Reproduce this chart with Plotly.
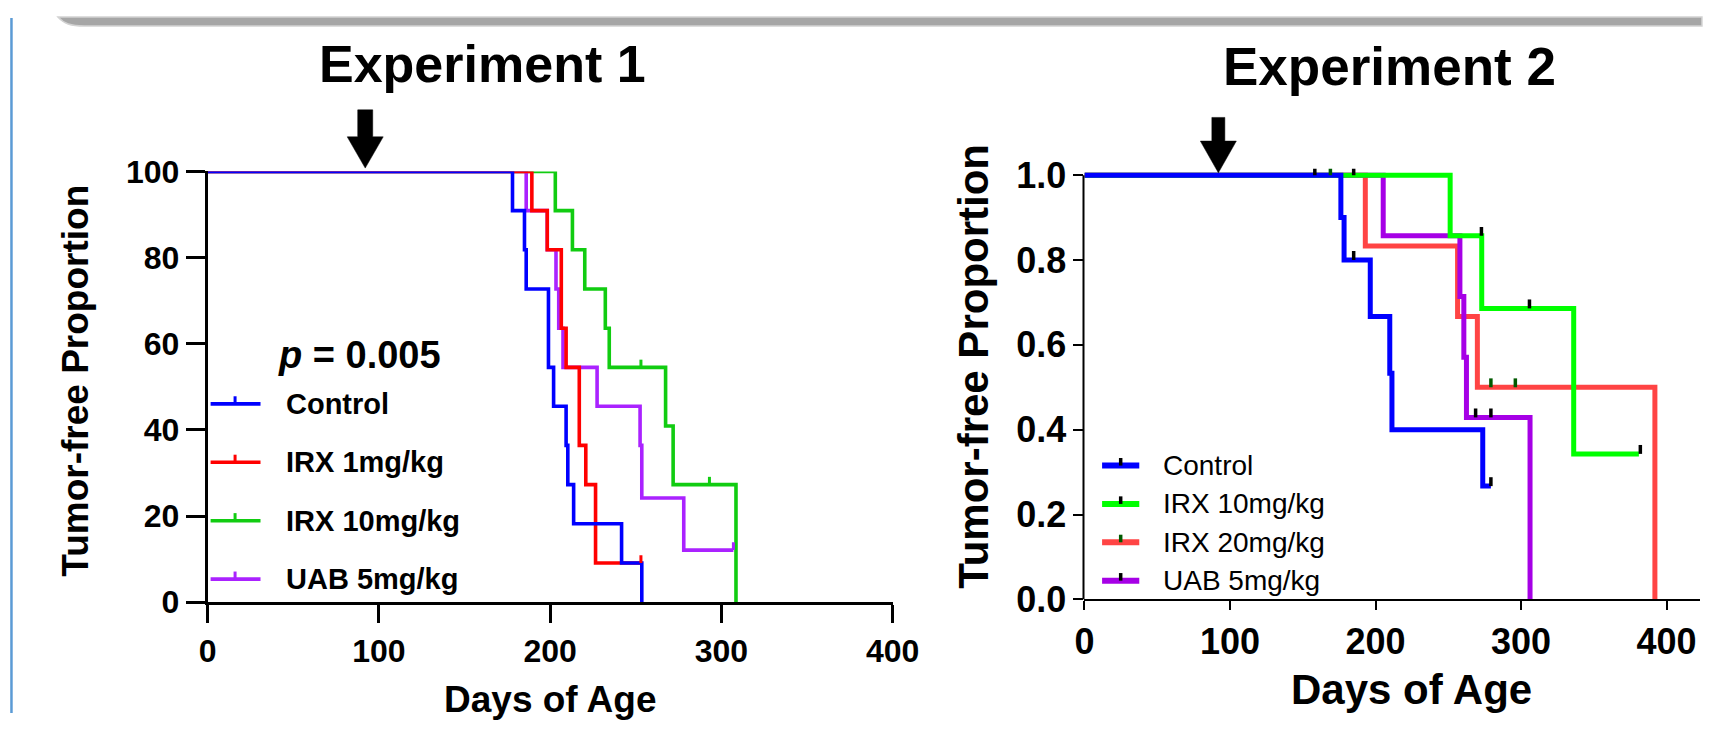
import plotly.graph_objects as go

W, H = 1727, 734
FONT = "Liberation Sans, Arial, sans-serif"

# ---------------- data ----------------
# Experiment 1 (percent tumor-free): step times (days of age) and level after each step
groups1 = ["Control", "IRX 1mg/kg", "IRX 10mg/kg", "UAB 5mg/kg"]
colors1 = ["#0000FF", "#FF0000", "#11CC11", "#AA22FF"]
ctrl1_t = [0, 178, 185, 186, 199, 202, 209.3, 210.3, 213.7, 241.7, 253.5]
ctrl1_s = [100, 90.9, 81.8, 72.7, 54.5, 45.5, 36.4, 27.3, 18.2, 9.1, 0]
irx1_t = [0, 189.3, 198.3, 206.5, 209.3, 217, 220.8, 226.5, 253]
irx1_s = [100, 90.9, 81.8, 63.6, 54.5, 36.4, 27.3, 9.1, 9.1]
irx10a_t = [0, 203, 213, 220.2, 232.2, 234.5, 267.4, 271.8, 308.5]
irx10a_s = [100, 90.9, 81.8, 72.7, 63.6, 54.5, 40.9, 27.3, 0]
uab1_t = [0, 186, 198.3, 203.4, 205, 207.5, 227.4, 252.5, 253.5, 278, 307]
uab1_s = [100, 90.9, 81.8, 72.7, 63.6, 54.5, 45.5, 36.4, 24.2, 12.1, 12.1]
# censored observations, Experiment 1
ctrl1_ct, ctrl1_cs = [], []
irx1_ct, irx1_cs = [253], [9.1]
irx10a_ct, irx10a_cs = [253, 293], [54.5, 27.3]
uab1_ct, uab1_cs = [307], [12.1]

# Experiment 2 (proportion tumor-free)
groups2 = ["Control", "IRX 10mg/kg", "IRX 20mg/kg", "UAB 5mg/kg"]
colors2 = ["#0000FF", "#00FF00", "#FF4444", "#A600E6"]
cens_colors2 = ["#000000", "#000000", "#005A00", "#000000"]
ctrl2_t = [0, 176.2, 178.4, 196.4, 209.8, 211.3, 273.7, 279.3]
ctrl2_s = [1, 0.9, 0.8, 0.667, 0.533, 0.4, 0.267, 0.267]
irx10b_t = [0, 251.3, 273, 336.2, 381]
irx10b_s = [1, 0.857, 0.686, 0.343, 0.343]
irx20_t = [0, 193, 256.4, 270, 392]
irx20_s = [1, 0.833, 0.667, 0.5, 0]
uab2_t = [0, 205.3, 258, 260.7, 262.5, 306.2]
uab2_s = [1, 0.857, 0.714, 0.571, 0.429, 0]
# censored observations, Experiment 2
ctrl2_ct, ctrl2_cs = [158.3, 185, 279.3], [1, 0.8, 0.267]
irx10b_ct, irx10b_cs = [185, 272.8, 305.8, 382], [1, 0.857, 0.686, 0.343]
irx20_ct, irx20_cs = [169, 279.3, 296.1], [1, 0.5, 0.5]
uab2_ct, uab2_cs = [268.8, 279.3], [0.429, 0.429]

arrow_day = 92
x_ticks = [0, 100, 200, 300, 400]
y1_ticks = [0, 20, 40, 60, 80, 100]
y2_ticks = [0, 0.2, 0.4, 0.6, 0.8, 1.0]
p_text = "<i>p</i> = 0.005"

# ---------------- layout geometry (pixels) ----------------
def px(x):
    return x / W

def py(y):
    return 1 - y / H

L_x0, L_x1, L_y0, L_y1 = 202, 902, 617, 162
R_x0, R_y0, R_ppu, R_ppd = 1098, 614, 448, 1.487
R_xmax = (W - R_x0) / R_ppd
R_ytop = 1.015

fig = go.Figure()

series1 = [(ctrl1_t, ctrl1_s, ctrl1_ct, ctrl1_cs), (irx1_t, irx1_s, irx1_ct, irx1_cs),
           (irx10a_t, irx10a_s, irx10a_ct, irx10a_cs), (uab1_t, uab1_s, uab1_ct, uab1_cs)]
order1 = [2, 3, 1, 0]
for i in order1:
    t, s, ct, cs = series1[i]
    fig.add_trace(go.Scatter(x=t, y=s, mode="lines", line=dict(shape="hv", color=colors1[i], width=3.6),
                             xaxis="x", yaxis="y", showlegend=False, hoverinfo="skip"))
for i in order1:
    t, s, ct, cs = series1[i]
    if not ct:
        continue
    xs, ys = [], []
    for a, b in zip(ct, cs):
        xs += [a, a, None]
        ys += [b, b + 1.8, None]
    fig.add_trace(go.Scatter(x=xs, y=ys, mode="lines", line=dict(color=colors1[i], width=3),
                             xaxis="x", yaxis="y", showlegend=False, hoverinfo="skip"))

series2 = [(ctrl2_t, ctrl2_s, ctrl2_ct, ctrl2_cs), (irx10b_t, irx10b_s, irx10b_ct, irx10b_cs),
           (irx20_t, irx20_s, irx20_ct, irx20_cs), (uab2_t, uab2_s, uab2_ct, uab2_cs)]
order2 = [2, 3, 1, 0]
for i in order2:
    t, s, ct, cs = series2[i]
    fig.add_trace(go.Scatter(x=t, y=s, mode="lines", line=dict(shape="hv", color=colors2[i], width=5),
                             xaxis="x2", yaxis="y2", showlegend=False, hoverinfo="skip"))
for i in order2:
    t, s, ct, cs = series2[i]
    xs, ys = [], []
    for a, b in zip(ct, cs):
        xs += [a, a, None]
        ys += [b, b + 0.021, None]
    fig.add_trace(go.Scatter(x=xs, y=ys, mode="lines", line=dict(color=cens_colors2[i], width=3.5),
                             xaxis="x2", yaxis="y2", showlegend=False, hoverinfo="skip"))

shapes = []
annotations = []

# top gray band with rounded corner
band = "M {},{} C {},{} {},{} {},{} L {},{} L {},{} Z".format(
    px(49), py(-1), px(55), py(6), px(62), py(8.5), px(76), py(8.5), px(W + 2), py(8.5), px(W + 2), py(-1))
shapes.append(dict(type="path", xref="paper", yref="paper", path=band,
                   fillcolor="#A6A6A6", line=dict(color="#D2D2D2", width=1.5)))
# left blue page edge
shapes.append(dict(type="line", xref="paper", yref="paper", x0=px(1.5), x1=px(1.5), y0=py(0), y1=py(H),
                   line=dict(color="#5B9BD5", width=2.5)))
# right chart y axis line
shapes.append(dict(type="line", xref="paper", yref="y2", x0=px(R_x0 - 1), x1=px(R_x0 - 1), y0=0, y1=1.0,
                   line=dict(color="black", width=2)))

# treatment-start arrows
def arrow(xref, tip_y, base_y, top_y, head_half, shaft_half):
    path = ("M {sh},{top} L {sh},{base} L {hh},{base} L 0,{tip} L {nhh},{base} L {nsh},{base} "
            "L {nsh},{top} Z").format(sh=shaft_half, nsh=-shaft_half, hh=head_half, nhh=-head_half,
                                      top=py(top_y), base=py(base_y), tip=py(tip_y))
    return dict(type="path", xref=xref, yref="paper", xsizemode="pixel", xanchor=arrow_day,
                path=path, fillcolor="black", line=dict(color="black", width=0.5))

shapes.append(arrow("x", 158.5, 125.5, 97, 18, 7.5))
shapes.append(arrow("x2", 163.5, 130, 105, 18, 6.5))

# legend, experiment 1
for k, (name, col) in enumerate(zip(groups1, colors1)):
    yc = 407.5 + k * 61.7
    shapes.append(dict(type="line", xref="paper", yref="paper", x0=px(205), x1=px(256), y0=py(yc), y1=py(yc),
                       line=dict(color=col, width=3.6)))
    shapes.append(dict(type="line", xref="paper", yref="paper", x0=px(230), x1=px(230), y0=py(yc), y1=py(yc - 8),
                       line=dict(color=col, width=3)))
    annotations.append(dict(x=px(280), y=py(yc), xref="paper", yref="paper", text=name, showarrow=False,
                            xanchor="left", yanchor="middle",
                            font=dict(family=FONT, size=29, color="black", weight="bold")))

# legend, experiment 2
for k, (name, col, cc) in enumerate(zip(groups2, colors2, cens_colors2)):
    yc = 472.7 + k * 40.5
    shapes.append(dict(type="line", xref="paper", yref="paper", x0=px(1116), x1=px(1154), y0=py(yc), y1=py(yc),
                       line=dict(color=col, width=6)))
    shapes.append(dict(type="line", xref="paper", yref="paper", x0=px(1135), x1=px(1135), y0=py(yc), y1=py(yc - 8),
                       line=dict(color=cc, width=3.5)))
    annotations.append(dict(x=px(1176), y=py(yc), xref="paper", yref="paper", text=name, showarrow=False,
                            xanchor="left", yanchor="middle",
                            font=dict(family=FONT, size=28, color="black")))

def label(text, x, y, size, angle=0, anchor="center"):
    annotations.append(dict(x=px(x), y=py(y), xref="paper", yref="paper", text=text, showarrow=False,
                            xanchor=anchor, yanchor="middle", textangle=angle,
                            font=dict(family=FONT, size=size, color="black", weight="bold")))

label("Experiment 1", 483, 48.5, 52)
label("Experiment 2", 1410, 51, 53)
label("Tumor-free Proportion", 67, 383.5, 37, angle=-90)
label("Tumor-free Proportion", 985, 367.5, 42, angle=-90)
label("Days of Age", 552, 720, 37)
label("Days of Age", 1432, 709, 42)
label(p_text, 272, 356, 38, anchor="left")

tickfont1 = dict(family=FONT, size=32, color="black", weight="bold")
tickfont2 = dict(family=FONT, size=36, color="black", weight="bold")

fig.update_layout(
    width=W, height=H, margin=dict(l=0, r=0, t=0, b=0),
    paper_bgcolor="white", plot_bgcolor="white",
    showlegend=False,
    xaxis=dict(domain=[px(L_x0), px(L_x1)], range=[0, 400], tickvals=x_ticks, ticks="outside",
               ticklen=18, tickwidth=3, tickcolor="black", showline=True, linewidth=3, linecolor="black",
               showgrid=False, zeroline=False, tickfont=tickfont1, anchor="y", fixedrange=True),
    yaxis=dict(domain=[py(L_y0), py(L_y1)], range=[0, 100], tickvals=y1_ticks, ticks="outside",
               ticklen=19, tickwidth=3, tickcolor="black", showline=True, linewidth=3, linecolor="black",
               showgrid=False, zeroline=False, tickfont=tickfont1, anchor="x", fixedrange=True),
    xaxis2=dict(domain=[px(R_x0), 1], range=[0, R_xmax], tickvals=x_ticks, ticks="outside",
                ticklen=9, tickwidth=2, tickcolor="black", showline=True, linewidth=2, linecolor="black",
                showgrid=False, zeroline=False, tickfont=tickfont2, anchor="y2", fixedrange=True),
    yaxis2=dict(domain=[py(R_y0), py(R_y0 - R_ytop * R_ppu)], range=[0, R_ytop], tickvals=y2_ticks,
                tickformat=".1f", ticks="outside", ticklen=10, tickwidth=2, tickcolor="black",
                showline=False, showgrid=False, zeroline=False, tickfont=tickfont2, anchor="x2",
                fixedrange=True),
    shapes=shapes, annotations=annotations,
)

fig.write_html(
    "out.html",
    config={"displayModeBar": False},
    post_script="document.body.style.margin='0px';document.body.style.padding='0px';",
)
